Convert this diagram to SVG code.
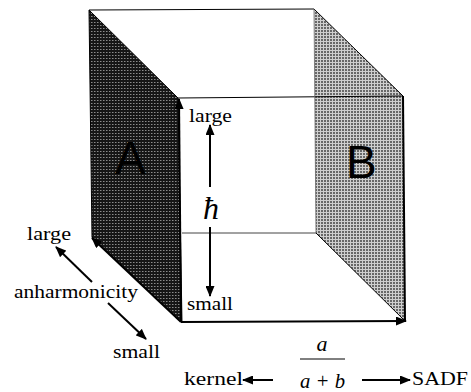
<svg xmlns="http://www.w3.org/2000/svg" width="471" height="392" viewBox="0 0 471 392">
<defs>
<pattern id="patA" width="3" height="3" patternUnits="userSpaceOnUse">
<rect width="3" height="3" fill="#161616"/>
<rect x="1" y="1" width="1.5" height="1" fill="#8c8c8c"/>
</pattern>
<pattern id="patB" width="3" height="3" patternUnits="userSpaceOnUse">
<rect width="3" height="3" fill="#cfcfcf"/>
<rect x="0" y="0" width="2" height="2" fill="#686868"/>
</pattern>
<marker id="ah" markerWidth="11" markerHeight="9" refX="10" refY="4.5" orient="auto" markerUnits="userSpaceOnUse">
<path d="M0,0 L11,4.5 L0,9 z" fill="#000"/>
</marker>
</defs>
<style>
text{fill:#000}
.t{font-family:'Liberation Serif','Times New Roman','DejaVu Serif',serif;font-size:18px}
.it{font-family:'Liberation Serif','Times New Roman','DejaVu Serif',serif;font-style:italic}
.big{font-family:'Liberation Sans',Arial,sans-serif;font-size:46px}
.edge{stroke:#000;stroke-width:1;fill:none}
.ax{stroke:#000;stroke-width:2;fill:none}
</style>
<g id="cube">
<polygon id="faceA" points="89,10 178,98 182,323 92,237" fill="url(#patA)" stroke="#000" stroke-width="1"/>
<polygon id="faceB" points="314,9 403,96 405,321 316,233" fill="url(#patB)" stroke="none"/>
<line class="edge" x1="89" y1="10" x2="314" y2="9"/>
<line class="edge" x1="178" y1="98" x2="403" y2="96"/>
<line class="edge" x1="314" y1="9" x2="403" y2="96"/>
<line class="edge" x1="316" y1="233" x2="405" y2="321"/>
<line x1="403" y1="96" x2="405" y2="321" stroke="#000" stroke-width="2"/>
<line x1="314" y1="9" x2="316" y2="233" stroke="#666" stroke-width="0.8"/>
<line x1="182" y1="233" x2="316" y2="233" stroke="#444" stroke-width="1"/>
</g>
<g id="labelA"><text class="big" x="115" y="174">A</text></g>
<g id="labelB"><text class="big" x="346" y="178">B</text></g>
<g id="connectors">
<line class="ax" x1="181" y1="322" x2="179" y2="99" marker-end="url(#ah)"/>
<line class="ax" x1="181" y1="322" x2="406" y2="321" marker-end="url(#ah)"/>
<line class="ax" x1="181" y1="322" x2="92" y2="238" marker-end="url(#ah)"/>
<line class="ax" x1="210" y1="187" x2="210" y2="125" marker-end="url(#ah)"/>
<line class="ax" x1="210" y1="227" x2="210" y2="296" marker-end="url(#ah)"/>
<line class="ax" x1="92" y1="282" x2="56" y2="247" marker-end="url(#ah)"/>
<line class="ax" x1="108" y1="303" x2="146" y2="339" marker-end="url(#ah)"/>
<line class="ax" x1="273" y1="380" x2="243" y2="380" marker-end="url(#ah)"/>
<line class="ax" x1="362" y1="380" x2="410" y2="380" marker-end="url(#ah)"/>
<line x1="300" y1="359" x2="345" y2="359" stroke="#000" stroke-width="1"/>
</g>
<g id="hbar-axis">
<text class="t" x="189" y="122" textLength="43" lengthAdjust="spacingAndGlyphs">large</text>
<text class="it" x="211" y="219" font-size="32" text-anchor="middle">ħ</text>
<text class="t" x="187" y="310" textLength="46" lengthAdjust="spacingAndGlyphs">small</text>
</g>
<g id="anharmonicity-axis">
<text class="t" x="27" y="240" textLength="44" lengthAdjust="spacingAndGlyphs">large</text>
<text class="t" x="14" y="298" textLength="124" lengthAdjust="spacingAndGlyphs">anharmonicity</text>
<text class="t" x="113" y="358" textLength="47" lengthAdjust="spacingAndGlyphs">small</text>
</g>
<g id="fraction-axis">
<text class="t" x="184" y="385" textLength="59" lengthAdjust="spacingAndGlyphs">kernel</text>
<text class="it" x="322" y="351" font-size="22" text-anchor="middle">a</text>
<text class="it" x="300" y="388" font-size="22" textLength="45" lengthAdjust="spacingAndGlyphs">a + b</text>
<text class="t" x="412" y="385" textLength="56" lengthAdjust="spacingAndGlyphs">SADF</text>
</g>
</svg>
